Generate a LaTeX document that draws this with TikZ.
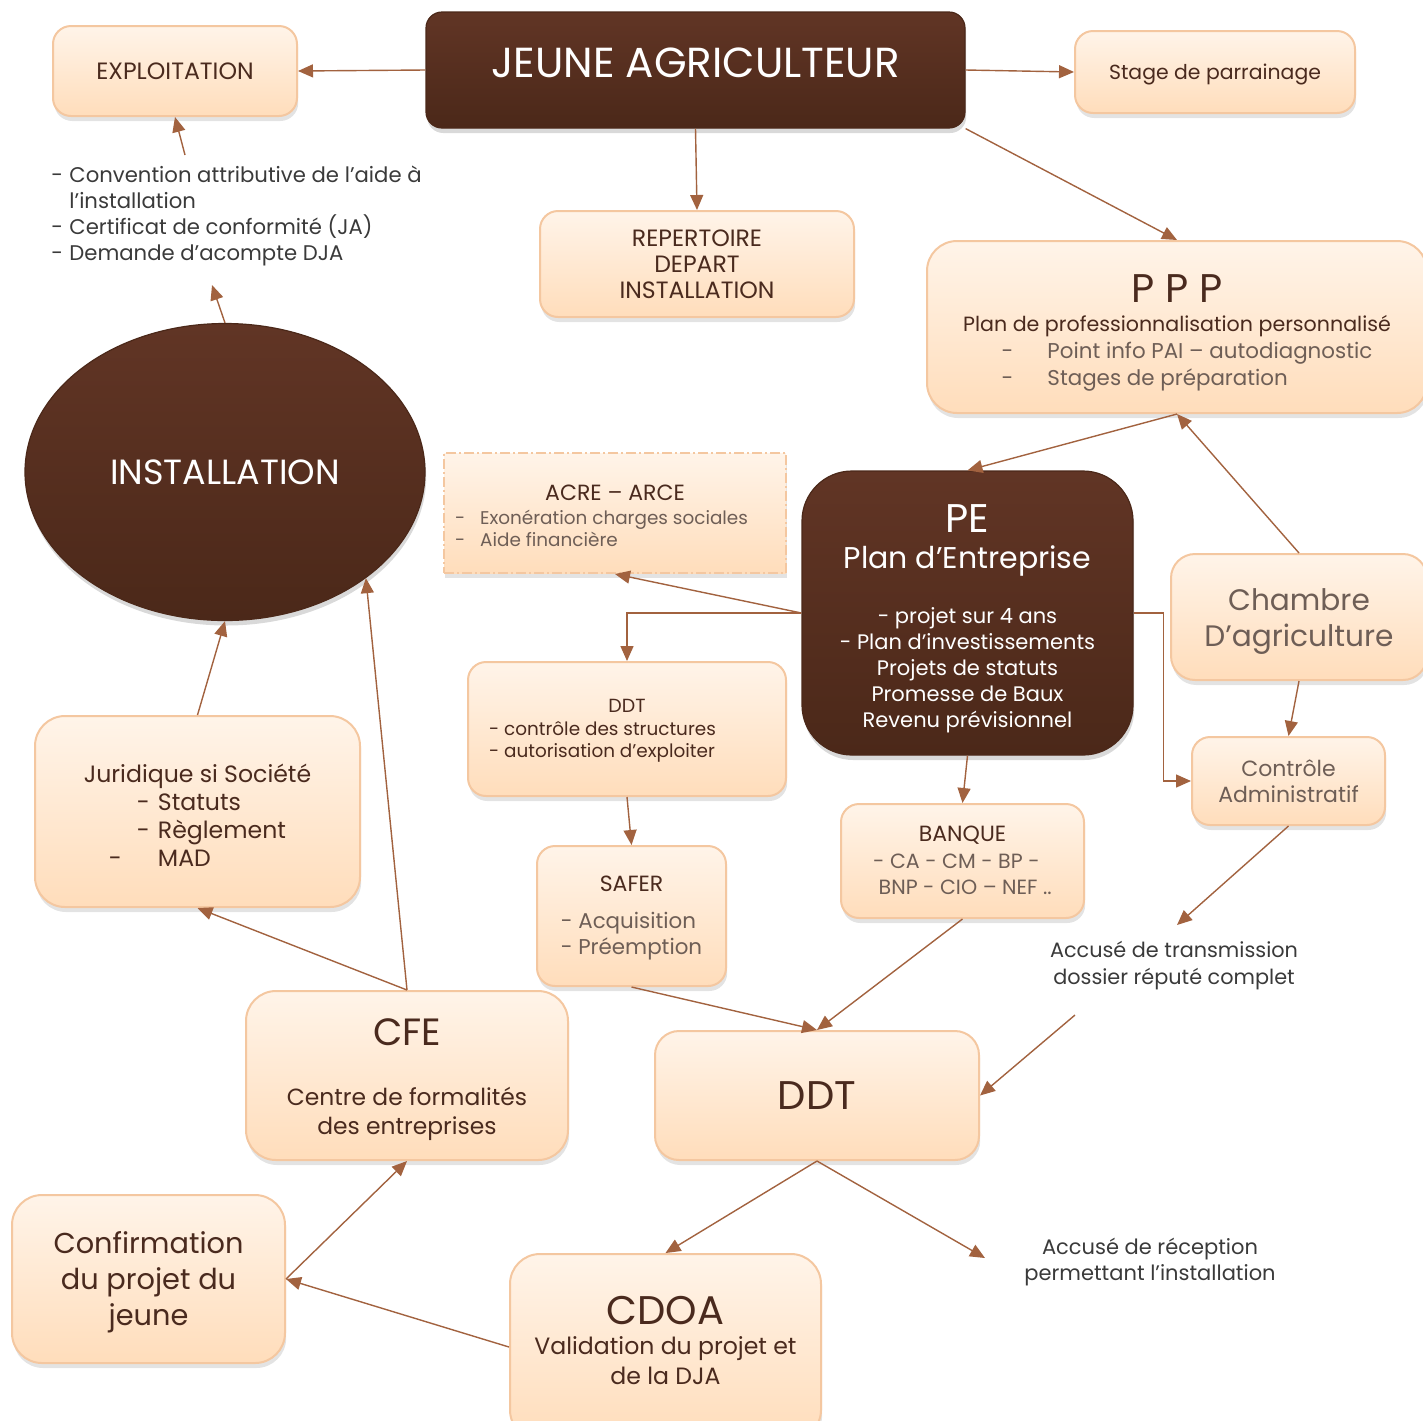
\documentclass[tikz,border=0pt]{standalone}
\usepackage{fontspec}
\setmainfont{Poppins}
\usepackage{tikz}
\usepackage{xcolor}
\usetikzlibrary{arrows.meta,shapes.geometric,shadows}

\definecolor{brownTop}{HTML}{613525}
\definecolor{brownBot}{HTML}{4B2819}
\definecolor{creamTop}{HTML}{FFF4E9}
\definecolor{creamBot}{HTML}{FFDDBB}
\definecolor{creamEdge}{HTML}{F4C7A0}
\definecolor{arrowBrown}{HTML}{A2623F}
\definecolor{textBrown}{HTML}{4A2A1E}
\definecolor{textGrey}{HTML}{6E5E56}
\definecolor{textDark}{HTML}{3A3A3A}

\newcommand{\fsz}[2]{\fontsize{#1}{#2}\selectfont}

\begin{document}
\begin{tikzpicture}[x=0.5pt,y=-0.5pt,
        cream/.style={draw=creamEdge, line width=1pt, rounded corners=9pt,
            top color=creamTop, bottom color=creamBot, text=textBrown, align=center, inner sep=0pt,
            drop shadow={opacity=0.22, shadow xshift=0.6pt, shadow yshift=-2.5pt}},
        dark/.style={draw=brownBot, line width=0.6pt, rounded corners=8pt,
            top color=brownTop, bottom color=brownBot, text=white, align=center, inner sep=0pt,
            drop shadow={opacity=0.3, shadow xshift=0.6pt, shadow yshift=-2.5pt}},
        boxsize/.style 2 args={minimum width=#1*0.5pt, minimum height=#2*0.5pt},
        link/.style={draw=arrowBrown, line width=0.7pt, -{Triangle[length=7.5pt,width=6.5pt]}}]
    \useasboundingbox (0,0) rectangle (1423,1420);

    % top row
    \node[dark, boxsize={539}{116}, font=\fsz{21}{24}] (ja) at (695.5,70) {JEUNE AGRICULTEUR\rule[-7pt]{0pt}{0pt}};
    \node[cream, boxsize={244}{90}, font=\fsz{11.8}{13}] (exploit) at (175,71) {EXPLOITATION};
    \node[cream, boxsize={280}{82}, font=\fsz{10.2}{13}] (stage) at (1215,72) {\rule{0pt}{10pt}Stage de parrainage};
    \node[cream, boxsize={314}{106}, font=\fsz{11.8}{13}] (repert) at (697,264) {REPERTOIRE\\DEPART\\INSTALLATION};
    \node[cream, rounded corners=15pt, boxsize={500}{172}, font=\fsz{10.3}{13.5}] (ppp) at (1177,327) {%
        \rule{0pt}{21pt}{\fsz{20}{24}P P P}\\[1pt]
        Plan de professionnalisation personnalisé\\
        \hspace*{10pt}{\fsz{10.7}{13.5}\color{textGrey}\begin{tabular}{@{}l@{\hspace{17pt}}l@{}}
            -&Point info PAI – autodiagnostic\\
            -&Stages de préparation
        \end{tabular}}};

    % left side
    \node[text=textDark, anchor=north west, align=left, inner sep=0pt, font=\fsz{10.6}{13}] (papers) at (51,166) {%
        \makebox[9pt][l]{-}Convention attributive de l’aide à\\
        \makebox[9pt][l]{}l’installation\\
        \makebox[9pt][l]{-}Certificat de conformité (JA)\\
        \makebox[9pt][l]{-}Demande d’acompte DJA};
    \node[ellipse, draw=brownBot, line width=0.6pt, top color=brownTop, bottom color=brownBot,
        text=white, inner sep=0pt, minimum width=200pt, minimum height=148.5pt, font=\fsz{17.5}{20},
        drop shadow={opacity=0.3, shadow xshift=0.6pt, shadow yshift=-2.5pt}] (install) at (225,472) {INSTALLATION};
    \node[cream, boxsize={325}{191}, rounded corners=15pt, font=\fsz{11.8}{14}] (jurid) at (197.5,811.5) {%
        \rule{0pt}{17pt}Juridique si Société\\
        \begin{tabular}{@{}r@{\hspace{4pt}}l@{}}
            -&Statuts\\
            -&Règlement\\
            -\hspace*{14pt}&MAD
        \end{tabular}};

    % middle
    \node[cream, rounded corners=0pt, dash pattern=on 5pt off 1.5pt on 1pt off 1.5pt,
        boxsize={342}{120}, font=\fsz{11}{12}] (acre) at (615,513) {%
        \rule{0pt}{14pt}ACRE – ARCE\\[3pt]
        {\fsz{9.2}{11}\color{textGrey}\begin{tabular}{@{}l@{\hspace{7.5pt}}l@{}}
            -&Exonération charges sociales\\
            -&Aide financière
        \end{tabular}}\hspace*{13.5pt}};
    \node[dark, rounded corners=25pt, boxsize={331}{284}, font=\fsz{10.5}{13}] (pe) at (967.5,613) {%
        \rule{0pt}{20pt}{\fsz{20}{24}PE}\\[5pt]
        {\fsz{15}{19}Plan d’Entreprise}\\[14.5pt]
        - projet sur 4 ans\\
        - Plan d’investissements\\
        Projets de statuts\\
        Promesse de Baux\\
        Revenu prévisionnel};
    \node[cream, boxsize={318}{134}, font=\fsz{9.5}{11}] (ddtctrl) at (627,729) {%
        \rule{0pt}{9pt}DDT\\[3pt]
        {\fsz{9.2}{11}\begin{tabular}{@{}l@{}}
            - contrôle des structures\\
            - autorisation d’exploiter
        \end{tabular}}\hspace*{24.5pt}};
    \node[cream, boxsize={189}{140}, font=\fsz{11}{13}] (safer) at (631.5,916) {%
        \rule{0pt}{11pt}SAFER\\[8pt]
        {\fsz{10.7}{13}\color{textGrey}\begin{tabular}{@{}l@{}}
            - Acquisition\\
            - Préemption
        \end{tabular}}};
    \node[cream, boxsize={243}{114}, font=\fsz{11}{13}] (banque) at (962.5,861) {%
        \rule{0pt}{11pt}BANQUE\\[2pt]
        {\fsz{10.3}{13}\color{textGrey}\begin{tabular}{@{}l@{}}
            - CA - CM - BP -\\
            \ BNP - CIO – NEF ..
        \end{tabular}}};

    % right side
    \node[cream, boxsize={256}{126}, rounded corners=12pt, text=textGrey, font=\fsz{14.8}{18}] (chambre) at (1299,617) {\rule{0pt}{15pt}Chambre\\D’agriculture};
    \node[cream, boxsize={193}{88}, text=textGrey, font=\fsz{11}{13}] (controle) at (1288.5,781) {Contrôle\\Administratif};
    \node[text=textDark, align=center, inner sep=0pt, font=\fsz{10.4}{13.5}] (transmis) at (1174,966) {Accusé de transmission\\dossier réputé complet};
    \node[text=textDark, align=center, inner sep=0pt, font=\fsz{10.5}{13}] (reception) at (1150,1262) {Accusé de réception\\permettant l’installation};

    % bottom
    \node[cream, boxsize={322}{169}, rounded corners=15pt, font=\fsz{11.7}{14.5}] (cfe) at (407,1075.5) {%
        \rule{0pt}{17.5pt}{\fsz{19}{22}CFE}\\[15.5pt]
        Centre de formalités\\des entreprises};
    \node[cream, boxsize={324}{129}, rounded corners=12pt, font=\fsz{20}{24}] (ddt) at (817,1095.5) {DDT};
    \node[cream, boxsize={273}{168}, rounded corners=15pt, font=\fsz{14.4}{18}] (confirm) at (148.5,1279) {\rule{0pt}{14pt}Confirmation\\du projet du\\jeune};
    \node[cream, boxsize={311}{186}, rounded corners=15pt, font=\fsz{11.8}{15}] (cdoa) at (665.5,1347) {%
        {\fsz{20}{22}CDOA}\\
        Validation du projet et\\de la DJA\rule[-7pt]{0pt}{0pt}};

    % free ends
    \coordinate (papersTop) at (185,155);
    \coordinate (papersBot) at (212,285);
    \coordinate (transTop) at (1177,925);
    \coordinate (transBot) at (1075,1015);
    \coordinate (recep) at (985,1258);

    % connectors
    \draw[link] (ja.west) -- (exploit.east);
    \draw[link] (ja.east) -- (stage.west);
    \draw[link] (ja.south) -- (repert.north);
    \draw[link] (ja.south east) -- (ppp.north);
    \draw[link] (papersTop) -- (exploit.south);
    \draw[link] (install.north) -- (papersBot);
    \draw[link] (ppp.south) -- (pe.north);
    \draw[link] (chambre.north) -- (ppp.south);
    \draw[link] (pe.west) -- (acre.south);
    \draw[link] (pe.west) -| (ddtctrl.north);
    \draw[link] (pe.east) -- ++(30,0) |- (controle.west);
    \draw[link] (chambre.south) -- (controle.north);
    \draw[link] (pe.south) -- (banque.north);
    \draw[link] (ddtctrl.south) -- (safer.north);
    \draw[link] (safer.south) -- (ddt.north);
    \draw[link] (banque.south) -- (ddt.north);
    \draw[link] (controle.south) -- (transTop);
    \draw[link] (transBot) -- (ddt.east);
    \draw[link] (ddt.south) -- (cdoa.north);
    \draw[link] (ddt.south) -- (recep);
    \draw[link] (cdoa.west) -- (confirm.east);
    \draw[link] (confirm.east) -- (cfe.south);
    \draw[link] (cfe.north) -- (install.-37);
    \draw[link] (cfe.north) -- (jurid.south);
    \draw[link] (jurid.north) -- (install.south);
\end{tikzpicture}
\end{document}
